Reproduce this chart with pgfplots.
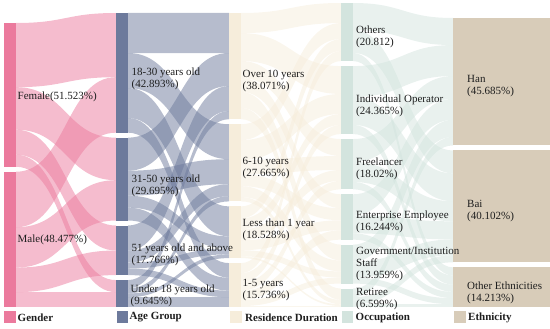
\documentclass[border=0pt]{standalone}
\usepackage{pgfplots}
\pgfplotsset{compat=1.18}
\usepackage{fontspec}
\setmainfont{Liberation Serif}

\definecolor{gN}{HTML}{EB7A9D}
\definecolor{aN}{HTML}{6D7A9C}
\definecolor{rN}{HTML}{F6EDDB}
\definecolor{oN}{HTML}{D3E4DE}
\definecolor{eN}{HTML}{D8CCB9}
\definecolor{txt}{HTML}{1E1E1E}

\def\sc{2.79}   % px per percent
\def\gap{5}
\def\alllinks{}
\def\allnodes{}

\newcommand\startcol[1]{\xdef\colcur{#1}}
% name, x-left, x-right, value (%), colour
\newcommand\defnode[5]{%
  \expandafter\xdef\csname xl@#1\endcsname{#2}%
  \expandafter\xdef\csname xr@#1\endcsname{#3}%
  \expandafter\xdef\csname col@#1\endcsname{#5}%
  \pgfmathsetmacro\tmpb{\colcur+#4*\sc}%
  \expandafter\xdef\csname out@#1\endcsname{\colcur}%
  \expandafter\xdef\csname in@#1\endcsname{\colcur}%
  \xdef\allnodes{\unexpanded\expandafter{\allnodes}\noexpand\fill[#5] (axis cs:#2,\colcur) rectangle (axis cs:#3,\tmpb);}%
  \pgfmathsetmacro\tmpc{\tmpb+\gap}%
  \xdef\colcur{\tmpc}%
}
% source, target, value (%), opacity
\newcommand\link[4]{%
  \pgfmathsetmacro\sA{\csname out@#1\endcsname}%
  \pgfmathsetmacro\sB{\sA+#3*\sc}%
  \expandafter\xdef\csname out@#1\endcsname{\sB}%
  \pgfmathsetmacro\tA{\csname in@#2\endcsname}%
  \pgfmathsetmacro\tB{\tA+#3*\sc}%
  \expandafter\xdef\csname in@#2\endcsname{\tB}%
  \edef\xa{\csname xr@#1\endcsname}%
  \edef\xb{\csname xl@#2\endcsname}%
  \pgfmathsetmacro\xm{(\xa+\xb)/2}%
  \edef\lc{\csname col@#1\endcsname}%
  \xdef\alllinks{\unexpanded\expandafter{\alllinks}\noexpand\fill[\lc, fill opacity=#4] (axis cs:\xa,\sA) .. controls (axis cs:\xm,\sA) and (axis cs:\xm,\tA) .. (axis cs:\xb,\tA) -- (axis cs:\xb,\tB) .. controls (axis cs:\xm,\tB) and (axis cs:\xm,\sB) .. (axis cs:\xa,\sB) -- cycle;}%
}

% ---------------- nodes ----------------
\startcol{23}
\defnode{G1}{4}{16}{51.523}{gN}
\defnode{G2}{4}{16}{48.477}{gN}
\startcol{13}
\defnode{A1}{116}{128}{42.893}{aN}
\defnode{A2}{116}{128}{29.695}{aN}
\defnode{A3}{116}{128}{17.766}{aN}
\defnode{A4}{116}{128}{9.645}{aN}
\startcol{13}
\defnode{R1}{229}{241}{38.071}{rN}
\defnode{R2}{229}{241}{27.665}{rN}
\defnode{R3}{229}{241}{18.528}{rN}
\defnode{R4}{229}{241}{15.736}{rN}
\startcol{3}
\defnode{O1}{341}{353}{20.812}{oN}
\defnode{O2}{341}{353}{24.365}{oN}
\defnode{O3}{341}{353}{18.02}{oN}
\defnode{O4}{341}{353}{16.244}{oN}
\defnode{O5}{341}{353}{13.959}{oN}
\defnode{O6}{341}{353}{6.599}{oN}
\startcol{18}
\defnode{E1}{453}{550}{45.685}{eN}
\defnode{E2}{453}{550}{40.102}{eN}
\defnode{E3}{453}{550}{14.213}{eN}

% ---------------- links ----------------
% Gender -> Age
\link{G1}{A1}{23.000}{0.5}\link{G1}{A2}{15.240}{0.5}\link{G1}{A3}{8.960}{0.5}\link{G1}{A4}{4.323}{0.5}
\link{G2}{A1}{19.893}{0.5}\link{G2}{A2}{14.455}{0.5}\link{G2}{A3}{8.806}{0.5}\link{G2}{A4}{5.322}{0.5}
% Age -> Residence
\link{A1}{R1}{14.340}{0.5}\link{A1}{R2}{12.540}{0.5}\link{A1}{R3}{10.750}{0.5}\link{A1}{R4}{5.263}{0.5}
\link{A2}{R1}{11.830}{0.5}\link{A2}{R2}{8.960}{0.5}\link{A2}{R3}{4.300}{0.5}\link{A2}{R4}{4.605}{0.5}
\link{A3}{R1}{8.960}{0.5}\link{A3}{R2}{4.300}{0.5}\link{A3}{R3}{2.150}{0.5}\link{A3}{R4}{2.356}{0.5}
\link{A4}{R1}{2.941}{0.5}\link{A4}{R2}{1.865}{0.5}\link{A4}{R3}{1.328}{0.5}\link{A4}{R4}{3.512}{0.5}
% Residence -> Occupation
\link{R1}{O1}{7.200}{0.5}\link{R1}{O2}{10.000}{0.5}\link{R1}{O3}{6.100}{0.5}\link{R1}{O4}{5.000}{0.5}\link{R1}{O5}{5.700}{0.5}\link{R1}{O6}{4.071}{0.5}
\link{R2}{O1}{5.700}{0.5}\link{R2}{O2}{7.200}{0.5}\link{R2}{O3}{5.000}{0.5}\link{R2}{O4}{4.300}{0.5}\link{R2}{O5}{3.900}{0.5}\link{R2}{O6}{1.565}{0.5}
\link{R3}{O1}{4.300}{0.5}\link{R3}{O2}{3.900}{0.5}\link{R3}{O3}{3.900}{0.5}\link{R3}{O4}{3.600}{0.5}\link{R3}{O5}{2.200}{0.5}\link{R3}{O6}{0.628}{0.5}
\link{R4}{O1}{3.612}{0.5}\link{R4}{O2}{3.265}{0.5}\link{R4}{O3}{3.020}{0.5}\link{R4}{O4}{3.344}{0.5}\link{R4}{O5}{2.159}{0.5}\link{R4}{O6}{0.335}{0.5}
% Occupation -> Ethnicity
\link{O1}{E1}{9.700}{0.5}\link{O1}{E2}{8.200}{0.5}\link{O1}{E3}{2.912}{0.5}
\link{O2}{E1}{11.100}{0.5}\link{O2}{E2}{10.000}{0.5}\link{O2}{E3}{3.265}{0.5}
\link{O3}{E1}{8.200}{0.5}\link{O3}{E2}{7.200}{0.5}\link{O3}{E3}{2.620}{0.5}
\link{O4}{E1}{7.500}{0.5}\link{O4}{E2}{6.500}{0.5}\link{O4}{E3}{2.244}{0.5}
\link{O5}{E1}{6.100}{0.5}\link{O5}{E2}{5.700}{0.5}\link{O5}{E3}{2.159}{0.5}
\link{O6}{E1}{3.085}{0.5}\link{O6}{E2}{2.502}{0.5}\link{O6}{E3}{1.012}{0.5}

\tikzset{lab/.style={anchor=west, inner sep=0pt, align=left, text=txt,
  font=\fontsize{11}{12}\selectfont},
  leg/.style={anchor=west, inner sep=0pt, text=txt,
  font=\fontsize{11}{12}\selectfont\bfseries}}

\begin{document}
\begin{tikzpicture}
\begin{axis}[width=550pt, height=329pt, scale only axis, hide axis,
  xmin=0, xmax=550, ymin=0, ymax=329, y dir=reverse, clip=false]
\path (axis cs:0,0) rectangle (axis cs:550,329);
\alllinks
\allnodes
% labels
\node[lab] at (axis cs:17.5,97) {Female(51.523\%)};
\node[lab] at (axis cs:17.5,240) {Male(48.477\%)};
\node[lab] at (axis cs:131.5,79) {18-30 years old\\(42.893\%)};
\node[lab] at (axis cs:131.5,186) {31-50 years old\\(29.695\%)};
\node[lab] at (axis cs:131.5,255) {51 years old and above\\(17.766\%)};
\node[lab] at (axis cs:130.5,296) {Under 18 years old\\(9.645\%)};
\node[lab] at (axis cs:242.5,81.5) {Over 10 years\\(38.071\%)};
\node[lab] at (axis cs:242.5,168.5) {6-10 years\\(27.665\%)};
\node[lab] at (axis cs:242.5,230) {Less than 1 year\\(18.528\%)};
\node[lab] at (axis cs:242.5,290.5) {1-5 years\\(15.736\%)};
\node[lab] at (axis cs:356,37) {Others\\(20.812)};
\node[lab] at (axis cs:356,106) {Individual Operator\\(24.365\%)};
\node[lab] at (axis cs:356,169) {Freelancer\\(18.02\%)};
\node[lab] at (axis cs:356,222) {Enterprise Employee\\(16.244\%)};
\node[lab] at (axis cs:356,264) {Government/Institution\\Staff\\(13.959\%)};
\node[lab] at (axis cs:356,299) {Retiree\\(6.599\%)};
\node[lab] at (axis cs:467,86.5) {Han\\(45.685\%)};
\node[lab] at (axis cs:467,211) {Bai\\(40.102\%)};
\node[lab] at (axis cs:467,292.5) {Other Ethnicities\\(14.213\%)};
% legend
\fill[gN] (axis cs:4,311) rectangle (axis cs:16,323);
\node[leg] at (axis cs:17.5,317.5) {Gender};
\fill[aN] (axis cs:116.5,311) rectangle (axis cs:128,323);
\node[leg] at (axis cs:129.5,317.5) {Age Group};
\fill[rN] (axis cs:230,311) rectangle (axis cs:242,323);
\node[leg] at (axis cs:245,317.5) {Residence Duration};
\fill[oN] (axis cs:342,311) rectangle (axis cs:353,323);
\node[leg] at (axis cs:355.5,317.5) {Occupation};
\fill[eN] (axis cs:454,311) rectangle (axis cs:466,323);
\node[leg] at (axis cs:468,317.5) {Ethnicity};
\end{axis}
\end{tikzpicture}
\end{document}
